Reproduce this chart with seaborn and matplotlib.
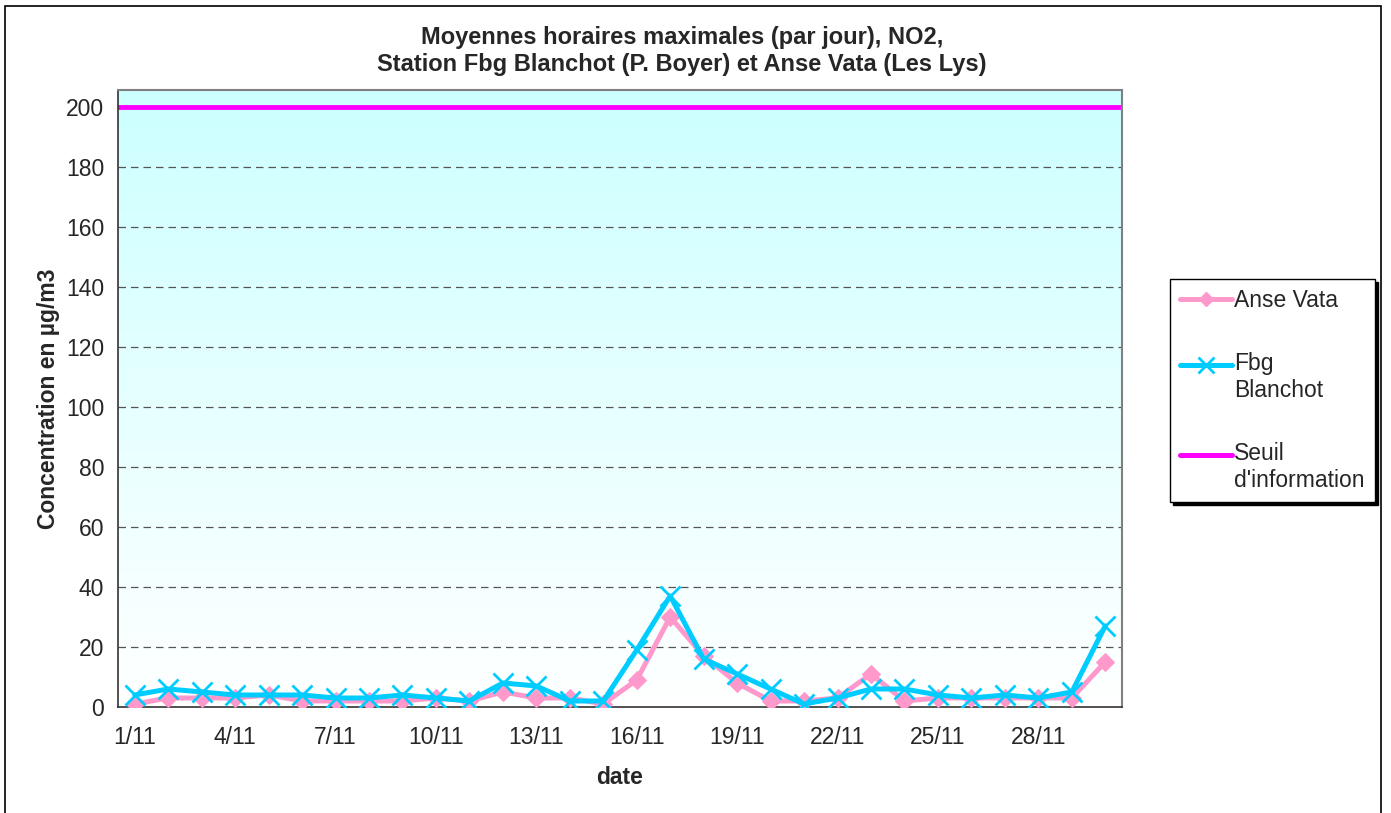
import numpy as np
import pandas as pd
import matplotlib
matplotlib.use("Agg")
import matplotlib.pyplot as plt
import matplotlib.patches as mpatches
from matplotlib.lines import Line2D
from matplotlib.legend_handler import HandlerLine2D
import seaborn as sns

dates = [f"{d}/11" for d in range(1, 31)]
anse_vata = [1, 3, 3, 3, 4, 2, 2, 2, 2, 3, 2, 5, 3, 3, 1,
             9, 30, 17, 8, 2, 2, 3, 11, 2, 3, 3, 3, 3, 3, 15]
fbg_blanchot = [4, 6, 5, 4, 4, 4, 3, 3, 4, 3, 2, 8, 7, 2, 2,
                19, 37, 16, 11, 6, 1, 3, 6, 6, 4, 3, 4, 3, 5, 27]
seuil = 200
yticks = list(range(0, 201, 20))
xtick_labels = dates[::3]

title = "Moyennes horaires maximales (par jour), NO2,\nStation Fbg Blanchot (P. Boyer) et Anse Vata (Les Lys)"

sns.set_style("white")
plt.rcParams['font.family'] = ['Liberation Sans', 'DejaVu Sans']

FS = 16.5

fig = plt.figure(figsize=(13.91, 8.13), dpi=100)
ax = fig.add_axes([118/1391, 1 - 707/813, (1122-118)/1391, (707-90)/813])

df = pd.DataFrame({"idx": np.arange(len(dates)), "date": dates,
                   "Anse Vata": anse_vata, "Fbg Blanchot": fbg_blanchot})

# gradient background
grad = np.linspace(0, 1, 256).reshape(-1, 1)
top = np.array([0xCC, 0xFF, 0xFF]) / 255.0
bot = np.array([1.0, 1.0, 1.0])
img = top[None, None, :] * grad[:, :, None] + bot[None, None, :] * (1 - grad[:, :, None])
ax.imshow(img, extent=[0, 1, 0, 1], transform=ax.transAxes, aspect="auto",
          origin="lower", zorder=0)

ax.set_xlim(-0.5, len(dates) - 0.5)
ax.set_ylim(0, 205.5)

for y in yticks[1:-1]:
    ax.axhline(y, color="#555555", linestyle=(0, (6, 4)), linewidth=0.9, zorder=1)

ax.axhline(seuil, color="#FF00FF", linewidth=3.5, zorder=2)

sns.lineplot(data=df, x="idx", y="Anse Vata", ax=ax, color="#FF99CC",
             linewidth=3.6, marker="D", markersize=9, markeredgecolor="#FF99CC",
             zorder=3, legend=False)
sns.lineplot(data=df, x="idx", y="Fbg Blanchot", ax=ax, color="#00CCFF",
             linewidth=3.6, marker="x", markersize=14, markeredgewidth=2,
             markeredgecolor="#00CCFF", zorder=4, legend=False)

ax.set_xticks(np.arange(0, len(dates), 3))
ax.set_xticklabels(xtick_labels, fontsize=FS)
ax.set_xticks(np.arange(-0.5, len(dates), 3), minor=True)
ax.tick_params(axis="x", which="major", length=0, pad=14)
ax.tick_params(axis="x", which="minor", length=6, width=1, color="#333333", direction="out")
ax.set_yticks(yticks)
ax.set_yticklabels([str(v) for v in yticks], fontsize=FS)
ax.tick_params(axis="y", length=6, width=1, color="#333333", direction="out", pad=4)

ax.set_xlabel("date", fontsize=FS, fontweight="bold", labelpad=12)
ax.set_ylabel("Concentration en µg/m3", fontsize=FS, fontweight="bold", labelpad=4.5)
fig.text(682/1391, 1 - 51/813, title, ha="center", va="center", fontsize=17,
         fontweight="bold", linespacing=1.25)

for s in ["left", "bottom"]:
    ax.spines[s].set_color("#333333")
    ax.spines[s].set_linewidth(1.2)
for s in ["top", "right"]:
    ax.spines[s].set_color("#808080")
    ax.spines[s].set_linewidth(1.5)


class TopHandler(HandlerLine2D):
    def __init__(self, shift=0.0, **kw):
        super().__init__(**kw)
        self.shift = shift

    def create_artists(self, legend, orig_handle, xdescent, ydescent,
                       width, height, fontsize, trans):
        arts = super().create_artists(legend, orig_handle, xdescent, ydescent,
                                      width, height, fontsize, trans)
        for a in arts:
            a.set_ydata(np.asarray(a.get_ydata(), dtype=float) + self.shift)
        return arts


handles = [
    Line2D([], [], color="#FF99CC", linewidth=3.6, marker="D", markersize=7),
    Line2D([], [], color="#00CCFF", linewidth=3.6, marker="x", markersize=11, markeredgewidth=2),
    Line2D([], [], color="#FF00FF", linewidth=3.6),
]
labels = ["Anse Vata", "Fbg\nBlanchot", "Seuil\nd'information"]
hmap = {handles[0]: TopHandler(0.0), handles[1]: TopHandler(9.5), handles[2]: TopHandler(9.5)}
leg = fig.legend(handles, labels, loc="upper left", bbox_to_anchor=(1170/1391, 1 - 279/813),
                 fontsize=FS, frameon=True, fancybox=False, handler_map=hmap,
                 shadow={"color": "black", "alpha": 1.0},
                 handlelength=2.25, handletextpad=0.1, labelspacing=1.75,
                 borderpad=0.45, borderaxespad=0)
leg.get_frame().set_edgecolor("black")
leg.get_frame().set_linewidth(1.0)

# outer chart border
fig.patches.append(mpatches.Rectangle((5/1391, -0.01), (1381-5)/1391, 1 - 6/813 + 0.01,
                                      transform=fig.transFigure, fill=False,
                                      edgecolor="black", linewidth=1.2))

fig.savefig("out.png", dpi=100)
